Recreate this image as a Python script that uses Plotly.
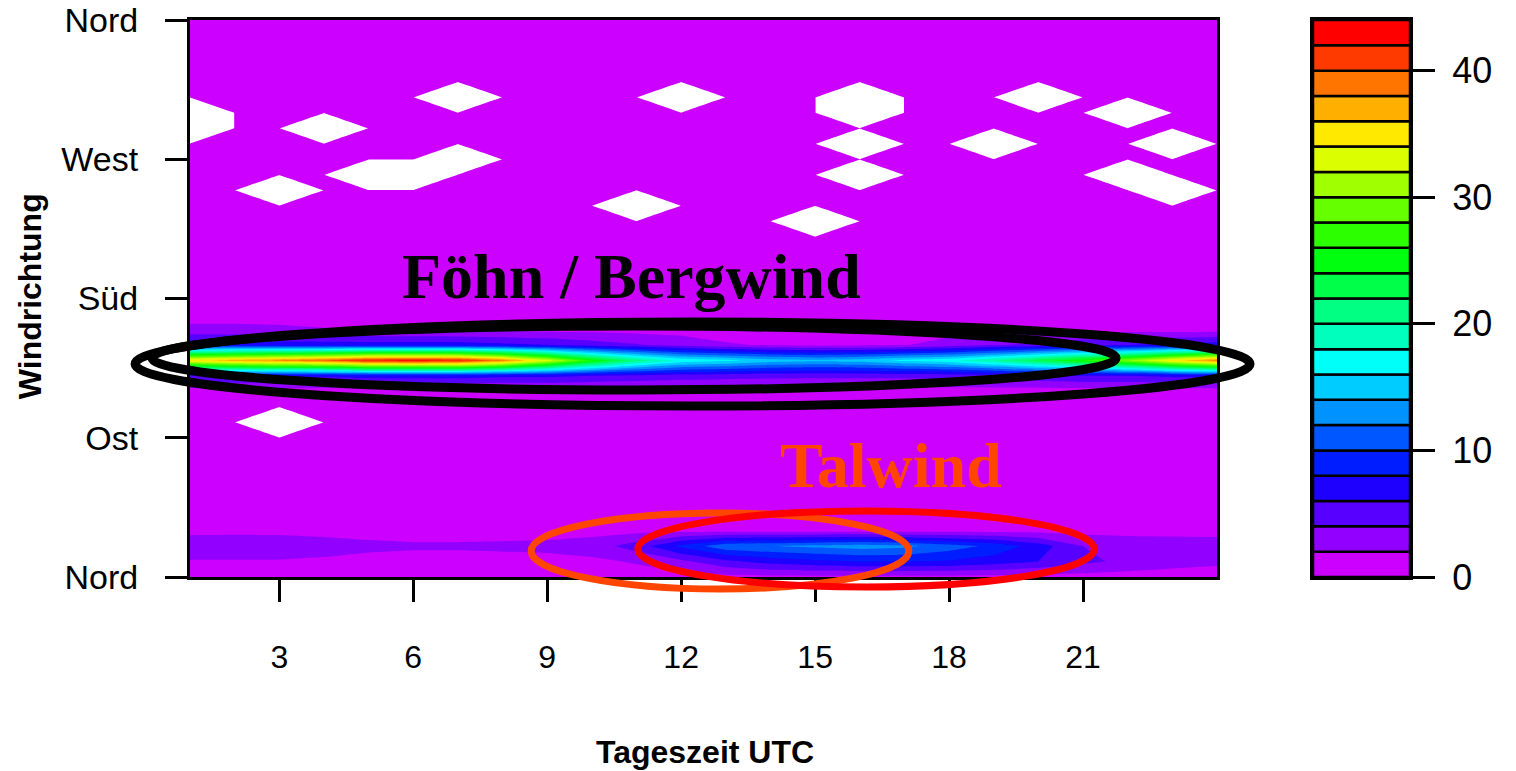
import colorsys
import plotly.graph_objects as go

# ---------------- data ----------------
hours = list(range(1, 25))                      # Tageszeit UTC (grid columns)
directions = list(range(0, 361, 10))            # Windrichtung in degrees (grid rows)
levels = list(range(0, 46, 2))                  # filled-contour levels 0..44
dir_ticks = [0, 90, 180, 270, 360]
dir_labels = ["Nord", "Ost", "Süd", "West", "Nord"]
hour_ticks = [3, 6, 9, 12, 15, 18, 21]
key_ticks = [0, 10, 20, 30, 40]

# frequency per (direction row, hour column)
r000 = [1.0, 1.0, 1.0, 0.9, 0.8, 0.8, 0.8, 0.8, 0.9, 1.0, 1.1, 1.3, 1.4, 1.5, 1.5, 1.5, 1.5, 1.5, 1.4, 1.3, 1.2, 1.1, 1.0, 1.0]
r010 = [1.8, 1.8, 1.8, 1.6, 1.3, 1.2, 1.2, 1.3, 1.4, 1.6, 2.2, 3.5, 5.5, 6.8, 7.5, 8.0, 8.0, 7.8, 7.0, 6.0, 4.5, 3.5, 2.8, 2.4]
r020 = [3.5, 3.6, 3.5, 3.0, 2.5, 2.3, 2.3, 2.4, 2.5, 3.0, 5.0, 8.5, 11.5, 12.0, 12.5, 13.0, 12.5, 11.0, 9.5, 7.0, 4.0, 3.3, 3.1, 3.0]
r030 = [1.4, 1.4, 1.4, 1.3, 1.2, 1.1, 1.1, 1.1, 1.2, 1.3, 1.4, 1.3, 1.2, 1.2, 1.2, 1.2, 1.2, 1.2, 1.2, 1.3, 1.3, 1.3, 1.3, 1.3]
r040 = [1.0, 1.0, 0.9, 0.9, 0.9, 0.8, 0.8, 0.8, 0.8, 0.9, 1.0, 1.0, 1.0, 1.0, 1.0, 1.0, 1.0, 1.0, 1.0, 1.0, 1.0, 1.0, 0.9, 0.9]
r050 = [0.8, 0.8, 0.8, 0.7, 0.7, 0.7, 0.7, 0.7, 0.7, 0.8, 0.8, 0.9, 0.9, 0.9, 0.9, 0.9, 0.9, 0.9, 0.8, 0.8, 0.8, 0.8, 0.8, 0.8]
r060 = [0.7, 0.7, 0.7, 0.6, 0.6, 0.6, 0.6, 0.6, 0.6, 0.7, 0.7, 0.8, 0.8, 0.8, 0.8, 0.8, 0.8, 0.8, 0.7, 0.7, 0.7, 0.7, 0.7, 0.7]
r070 = [0.6, 0.6, 0.6, 0.6, 0.5, 0.5, 0.5, 0.5, 0.6, 0.6, 0.6, 0.7, 0.7, 0.7, 0.7, 0.7, 0.7, 0.7, 0.6, 0.6, 0.6, 0.6, 0.6, 0.6]
r080 = [0.6, 0.6, 0.5, 0.5, 0.5, 0.5, 0.5, 0.5, 0.5, 0.6, 0.6, 0.6, 0.6, 0.6, 0.6, 0.6, 0.6, 0.6, 0.6, 0.6, 0.6, 0.6, 0.6, 0.6]
r090 = [0.6, 0.6, 0.5, 0.5, 0.5, 0.5, 0.5, 0.5, 0.5, 0.6, 0.6, 0.6, 0.6, 0.6, 0.6, 0.6, 0.6, 0.6, 0.6, 0.6, 0.6, 0.6, 0.6, 0.6]
r100 = [0.7, 0.6, 0.5, 0.6, 0.6, 0.6, 0.6, 0.6, 0.6, 0.6, 0.6, 0.6, 0.6, 0.6, 0.6, 0.6, 0.6, 0.6, 0.6, 0.6, 0.6, 0.6, 0.7, 0.7]
r110 = [1.0, 1.0, 1.0, 0.9, 0.9, 0.9, 0.9, 0.9, 0.9, 0.9, 0.9, 0.9, 0.9, 0.9, 0.9, 0.9, 0.9, 0.9, 0.9, 0.9, 0.9, 0.9, 1.0, 1.0]
r120 = [0.9, 0.9, 0.9, 0.8, 0.8, 0.8, 0.8, 0.8, 0.9, 0.9, 1.0, 1.1, 1.1, 1.1, 1.1, 1.1, 1.1, 1.0, 1.0, 0.9, 0.9, 0.9, 0.9, 0.9]
r130 = [6.0, 6.5, 6.5, 6.5, 7.0, 7.0, 7.0, 6.5, 6.5, 6.0, 5.5, 5.0, 4.8, 4.6, 4.5, 4.5, 4.5, 4.8, 5.0, 5.5, 6.0, 6.0, 6.5, 6.5]
r140 = [35.0, 37.0, 38.5, 40.0, 42.5, 43.0, 42.5, 39.0, 33.0, 26.0, 21.0, 17.5, 16.5, 15.0, 14.5, 15.0, 16.5, 17.5, 20.0, 23.0, 26.0, 30.0, 35.0, 39.0]
r150 = [7.5, 7.5, 7.0, 7.0, 7.0, 7.0, 7.0, 6.5, 6.0, 5.0, 4.2, 3.2, 2.2, 1.8, 1.6, 1.6, 1.9, 2.8, 3.8, 4.5, 5.5, 6.0, 6.5, 7.0]
r160 = [2.4, 2.4, 2.3, 2.1, 1.8, 1.6, 1.5, 1.4, 1.3, 1.3, 1.2, 1.2, 1.1, 1.0, 1.0, 1.0, 1.1, 1.2, 1.2, 1.2, 1.2, 1.2, 1.1, 1.1]
r170 = [1.3, 1.3, 1.3, 1.2, 1.2, 1.2, 1.1, 1.1, 1.0, 1.0, 1.0, 0.9, 0.9, 0.9, 0.9, 0.9, 0.9, 0.9, 0.9, 0.9, 0.9, 0.9, 0.9, 0.9]
r180 = [0.9, 0.9, 0.9, 0.8, 0.8, 0.8, 0.8, 0.8, 0.8, 0.8, 0.8, 0.7, 0.7, 0.7, 0.7, 0.7, 0.7, 0.7, 0.7, 0.7, 0.7, 0.7, 0.7, 0.7]
r190 = [0.8, 0.8, 0.7, 0.7, 0.7, 0.7, 0.7, 0.7, 0.7, 0.7, 0.7, 0.6, 0.6, 0.6, 0.6, 0.6, 0.6, 0.6, 0.6, 0.6, 0.6, 0.6, 0.6, 0.6]
r200 = [0.7, 0.7, 0.6, 0.6, 0.6, 0.6, 0.6, 0.6, 0.6, 0.6, 0.6, 0.6, 0.6, 0.6, 0.6, 0.6, 0.6, 0.6, 0.6, 0.6, 0.6, 0.6, 0.6, 0.6]
r210 = [0.6, 0.6, 0.6, 0.6, 0.6, 0.6, 0.6, 0.6, 0.6, 0.6, 0.6, 0.6, 0.6, 0.6, 0.6, 0.5, 0.6, 0.6, 0.6, 0.6, 0.6, 0.6, 0.6, 0.6]
r220 = [0.6, 0.6, 0.6, 0.6, 0.6, 0.6, 0.6, 0.6, 0.6, 0.6, 0.5, 0.5, 0.6, 0.6, 0.5, 0.5, 0.6, 0.6, 0.6, 0.6, 0.6, 0.6, 0.6, 0.6]
r230 = [0.6, 0.6, 0.6, 0.6, 0.6, 0.6, 0.6, 0.6, 0.6, 0.6, 0.6, 0.6, 0.6, 0.6, 0.0, 0.6, 0.6, 0.6, 0.6, 0.6, 0.6, 0.6, 0.6, 0.6]
r240 = [0.6, 0.6, 0.6, 0.6, 0.6, 0.6, 0.6, 0.6, 0.6, 0.6, 0.0, 0.6, 0.6, 0.6, 0.6, 0.6, 0.6, 0.6, 0.6, 0.6, 0.6, 0.6, 0.5, 0.6]
r250 = [0.6, 0.6, 0.0, 0.6, 0.5, 0.5, 0.6, 0.6, 0.6, 0.6, 0.6, 0.6, 0.6, 0.6, 0.6, 0.6, 0.6, 0.6, 0.6, 0.6, 0.6, 0.5, 0.0, 0.6]
r260 = [0.6, 0.6, 0.5, 0.5, 0.0, 0.0, 0.5, 0.6, 0.6, 0.6, 0.6, 0.6, 0.6, 0.6, 0.6, 0.0, 0.6, 0.6, 0.6, 0.6, 0.5, 0.0, 0.5, 0.6]
r270 = [0.6, 0.6, 0.6, 0.6, 0.5, 0.5, 0.0, 0.6, 0.6, 0.6, 0.6, 0.6, 0.6, 0.6, 0.6, 0.5, 0.6, 0.6, 0.6, 0.6, 0.6, 0.5, 0.6, 0.6]
r280 = [0.5, 0.6, 0.6, 0.5, 0.6, 0.6, 0.6, 0.6, 0.6, 0.6, 0.6, 0.6, 0.6, 0.6, 0.6, 0.0, 0.6, 0.6, 0.0, 0.6, 0.6, 0.6, 0.0, 0.6]
r290 = [0.0, 0.5, 0.5, 0.0, 0.5, 0.6, 0.6, 0.6, 0.6, 0.6, 0.6, 0.6, 0.6, 0.6, 0.6, 0.5, 0.6, 0.6, 0.5, 0.6, 0.6, 0.5, 0.5, 0.6]
r300 = [0.0, 0.5, 0.6, 0.5, 0.6, 0.6, 0.5, 0.6, 0.6, 0.6, 0.6, 0.5, 0.6, 0.6, 0.6, 0.0, 0.6, 0.6, 0.6, 0.5, 0.5, 0.0, 0.5, 0.6]
r310 = [0.6, 0.6, 0.6, 0.6, 0.6, 0.6, 0.0, 0.6, 0.6, 0.6, 0.6, 0.0, 0.6, 0.6, 0.6, 0.0, 0.6, 0.6, 0.6, 0.0, 0.6, 0.6, 0.6, 0.6]
r320 = [0.6, 0.6, 0.6, 0.6, 0.6, 0.6, 0.5, 0.6, 0.6, 0.6, 0.6, 0.5, 0.6, 0.6, 0.6, 0.5, 0.6, 0.6, 0.6, 0.5, 0.6, 0.6, 0.6, 0.6]
r330 = [0.7, 0.7, 0.7, 0.7, 0.7, 0.7, 0.7, 0.7, 0.7, 0.7, 0.7, 0.7, 0.7, 0.7, 0.7, 0.7, 0.7, 0.7, 0.7, 0.7, 0.7, 0.7, 0.7, 0.7]
r340 = [0.8, 0.8, 0.8, 0.8, 0.8, 0.8, 0.8, 0.8, 0.8, 0.8, 0.8, 0.8, 0.8, 0.8, 0.8, 0.8, 0.8, 0.8, 0.8, 0.8, 0.8, 0.8, 0.8, 0.8]
r350 = [0.9, 0.9, 0.9, 0.9, 0.9, 0.9, 0.9, 0.9, 0.9, 0.9, 0.9, 0.9, 0.9, 0.9, 0.9, 0.9, 0.9, 0.9, 0.9, 0.9, 0.9, 0.9, 0.9, 0.9]
r360 = [1.0, 1.0, 1.0, 0.9, 0.8, 0.8, 0.8, 0.8, 0.9, 1.0, 1.1, 1.3, 1.4, 1.5, 1.5, 1.5, 1.5, 1.5, 1.4, 1.3, 1.2, 1.1, 1.0, 1.0]

freq = [r000, r010, r020, r030, r040, r050, r060, r070, r080, r090, r100, r110, r120,
        r130, r140, r150, r160, r170, r180, r190, r200, r210, r220, r230, r240, r250,
        r260, r270, r280, r290, r300, r310, r320, r330, r340, r350, r360]

# grid points without data (drawn white) : (hour, direction)
missing_points = [(1, 290), (1, 300), (3, 100), (3, 250), (4, 290), (5, 260), (6, 260),
                  (7, 270), (7, 310), (11, 240), (12, 310), (15, 230), (16, 260),
                  (16, 280), (16, 300), (16, 310), (19, 280), (20, 310), (22, 260),
                  (22, 300), (23, 250), (23, 280)]

# hand-drawn highlight ellipses (hour / degree extents) and labels
ellipse_x0 = [-0.23, 0.15, 8.64, 11.03]
ellipse_x1 = [24.74, 21.74, 17.10, 21.25]
ellipse_y0 = [110.5, 120.9, -7.8, -6.5]
ellipse_y1 = [164.8, 162.2, 41.4, 42.7]
ellipse_col = ["black", "black", "#FF4500", "#FF0000"]
ellipse_w = [9, 9, 7, 7]

label_text = ["Föhn / Bergwind", "Talwind"]
label_x = [10.88, 16.7]
label_y = [194.0, 72.0]
label_col = ["black", "#FF4500"]

# ---------------- styling / layout ----------------
W, H = 1516, 771
XD = [190 / W, 1217 / W]
YD = [1 - 577 / H, 1 - 20 / H]
XR = [1, 24]
YR = [0, 360]

nb = len(levels) - 1
palette = []
for k in range(nb):
    r, g, b = colorsys.hsv_to_rgb(0.8 * (nb - 1 - k) / (nb - 1), 1, 1)
    palette.append("rgb(%d,%d,%d)" % (round(r * 255), round(g * 255), round(b * 255)))
cscale = [[k / (nb - 1), palette[k]] for k in range(nb)]

mask = [[1.0 if (h, d) in missing_points else 0.0 for h in hours] for d in directions]

fig = go.Figure()
fig.add_trace(go.Contour(
    x=hours, y=directions, z=freq,
    autocontour=False,
    contours=dict(start=levels[1], end=levels[-2], size=levels[1] - levels[0],
                  coloring="fill", showlines=False),
    colorscale=cscale, showscale=False, line=dict(width=0, smoothing=0),
    hoverinfo="skip"))
fig.add_trace(go.Contour(
    x=hours, y=directions, z=mask,
    autocontour=False,
    contours=dict(start=0.01, end=0.01, size=1, coloring="fill", showlines=False),
    colorscale=[[0, "rgba(255,255,255,0)"], [1, "rgb(255,255,255)"]],
    showscale=False, line=dict(width=0, smoothing=0), hoverinfo="skip"))

# colour key as stacked bars
fig.add_trace(go.Bar(
    x=[0] * nb, base=levels[:-1], y=[levels[i + 1] - levels[i] for i in range(nb)],
    width=1, marker=dict(color=palette, line=dict(color="black", width=2.5)),
    xaxis="x2", yaxis="y2", showlegend=False, hoverinfo="skip"))


def px_x(h):
    return XD[0] + (h - XR[0]) / (XR[1] - XR[0]) * (XD[1] - XD[0])


def px_y(d):
    return YD[0] + (d - YR[0]) / (YR[1] - YR[0]) * (YD[1] - YD[0])


shapes = []
for i in range(len(ellipse_x0)):
    shapes.append(dict(type="circle", xref="paper", yref="paper",
                       x0=px_x(ellipse_x0[i]), x1=px_x(ellipse_x1[i]),
                       y0=px_y(ellipse_y0[i]), y1=px_y(ellipse_y1[i]),
                       line=dict(color=ellipse_col[i], width=ellipse_w[i]),
                       layer="above"))

ann = []
for i in range(len(label_text)):
    ann.append(dict(text=label_text[i], x=label_x[i], y=label_y[i], xref="x", yref="y",
                    showarrow=False,
                    font=dict(family="Liberation Serif, Times New Roman, serif", size=64,
                              color=label_col[i], weight="bold")))
ann.append(dict(text="Tageszeit UTC", x=(XD[0] + XD[1]) / 2 + 0.001, y=1 - 752 / H,
                xref="paper", yref="paper", xanchor="center", yanchor="middle",
                showarrow=False,
                font=dict(family="Liberation Sans, Arial", size=32, color="black", weight="bold")))
ann.append(dict(text="Windrichtung", x=30 / W, y=(YD[0] + YD[1]) / 2 + 0.003, textangle=-90,
                xref="paper", yref="paper", xanchor="center", yanchor="middle",
                showarrow=False,
                font=dict(family="Liberation Sans, Arial", size=32, color="black", weight="bold")))

xfont = dict(family="Liberation Sans, Arial", size=32, color="black")
yfont = dict(family="Liberation Sans, Arial", size=34, color="black")
fig.update_layout(
    width=W, height=H, margin=dict(l=0, r=0, t=0, b=0),
    paper_bgcolor="white", plot_bgcolor="white",
    barmode="overlay", showlegend=False,
    font=xfont,
    xaxis=dict(domain=XD, range=XR, tickvals=hour_ticks, ticks="outside", ticklen=22,
               tickwidth=2.5, tickcolor="black", showline=True, linecolor="black",
               linewidth=3, mirror=True, showgrid=False, zeroline=False,
               ticklabelstandoff=28, tickfont=xfont, automargin=False),
    yaxis=dict(domain=YD, range=YR, tickvals=dir_ticks, ticktext=dir_labels,
               ticks="outside", ticklen=22, tickwidth=2.5, tickcolor="black",
               showline=True, linecolor="black", linewidth=3, mirror=True,
               showgrid=False, zeroline=False, ticklabelstandoff=20, tickfont=yfont,
               automargin=False),
    xaxis2=dict(domain=[1313 / W, 1410 / W], range=[-0.5, 0.5], anchor="y2",
                showticklabels=False, ticks="", showline=True, linecolor="black",
                linewidth=3, mirror=True, showgrid=False, zeroline=False, automargin=False),
    yaxis2=dict(domain=YD, range=[levels[0], levels[-1]], anchor="x2", side="right",
                tickvals=key_ticks, ticks="outside", ticklen=22, tickwidth=2.5,
                tickcolor="black", showline=True, linecolor="black", linewidth=3,
                mirror=True, showgrid=False, zeroline=False, ticklabelstandoff=10,
                tickfont=dict(family="Liberation Sans, Arial", size=36, color="black"),
                automargin=False),
    shapes=shapes, annotations=ann,
)

fig.write_html("out.html")
